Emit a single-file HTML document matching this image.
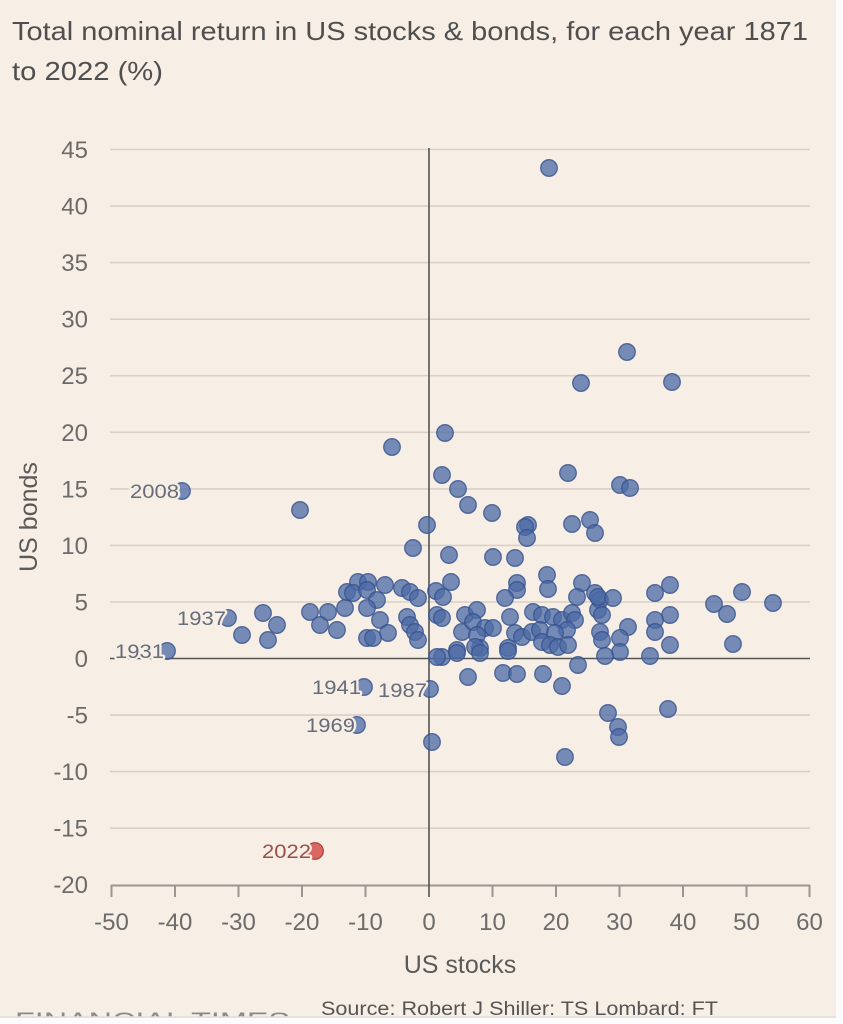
<!DOCTYPE html>
<html>
<head>
<meta charset="utf-8">
<style>
  html,body{margin:0;padding:0;background:#f7efe6;}
  svg{display:block;}
  text{font-family:"Liberation Sans", sans-serif;}
</style>
</head>
<body>
<svg width="843" height="1024" viewBox="0 0 843 1024" xmlns="http://www.w3.org/2000/svg">
  <rect x="0" y="0" width="843" height="1024" fill="#f7efe6"/>

  <text x="12" y="40" font-size="26" fill="#4f4f4f" textLength="796" lengthAdjust="spacingAndGlyphs">Total nominal return in US stocks &amp; bonds, for each year 1871</text>
  <text x="12" y="80" font-size="26" fill="#4f4f4f" textLength="151" lengthAdjust="spacingAndGlyphs">to 2022 (%)</text>

  <g stroke="#d9d1c6" stroke-width="1.6">
    <line x1="110" y1="149.5" x2="810" y2="149.5"/>
    <line x1="110" y1="206.1" x2="810" y2="206.1"/>
    <line x1="110" y1="262.6" x2="810" y2="262.6"/>
    <line x1="110" y1="319.2" x2="810" y2="319.2"/>
    <line x1="110" y1="375.7" x2="810" y2="375.7"/>
    <line x1="110" y1="432.3" x2="810" y2="432.3"/>
    <line x1="110" y1="488.9" x2="810" y2="488.9"/>
    <line x1="110" y1="545.4" x2="810" y2="545.4"/>
    <line x1="110" y1="602.0" x2="810" y2="602.0"/>
    <line x1="110" y1="715.1" x2="810" y2="715.1"/>
    <line x1="110" y1="771.6" x2="810" y2="771.6"/>
    <line x1="110" y1="828.2" x2="810" y2="828.2"/>
  </g>

  <g font-size="24" fill="#6b6b6b" text-anchor="end">
    <text x="88" y="158">45</text>
    <text x="88" y="214.6">40</text>
    <text x="88" y="271.1">35</text>
    <text x="88" y="327.7">30</text>
    <text x="88" y="384.2">25</text>
    <text x="88" y="440.8">20</text>
    <text x="88" y="497.4">15</text>
    <text x="88" y="553.9">10</text>
    <text x="88" y="610.5">5</text>
    <text x="88" y="667">0</text>
    <text x="88" y="723.6">-5</text>
    <text x="88" y="780.1">-10</text>
    <text x="88" y="836.7">-15</text>
    <text x="88" y="893.2">-20</text>
  </g>

  <text x="0" y="0" font-size="25" fill="#5a5a5a" text-anchor="middle" transform="translate(37,517) rotate(-90)">US bonds</text>

  <g stroke="#9a9690" stroke-width="2">
    <line x1="111" y1="885.5" x2="810" y2="885.5"/>
    <line x1="111.5" y1="885" x2="111.5" y2="897"/>
    <line x1="175" y1="885" x2="175" y2="897"/>
    <line x1="238.5" y1="885" x2="238.5" y2="897"/>
    <line x1="302" y1="885" x2="302" y2="897"/>
    <line x1="365.5" y1="885" x2="365.5" y2="897"/>
    <line x1="492.5" y1="885" x2="492.5" y2="897"/>
    <line x1="556" y1="885" x2="556" y2="897"/>
    <line x1="619.5" y1="885" x2="619.5" y2="897"/>
    <line x1="683" y1="885" x2="683" y2="897"/>
    <line x1="746.5" y1="885" x2="746.5" y2="897"/>
    <line x1="809.5" y1="885" x2="809.5" y2="897"/>
  </g>

  <g stroke="#545454" stroke-width="1.6">
    <line x1="110" y1="658.5" x2="810" y2="658.5"/>
    <line x1="429" y1="148" x2="429" y2="897"/>
  </g>

  <g font-size="24" fill="#6b6b6b" text-anchor="middle">
    <text x="111.5" y="930">-50</text>
    <text x="175" y="930">-40</text>
    <text x="238.5" y="930">-30</text>
    <text x="302" y="930">-20</text>
    <text x="365.5" y="930">-10</text>
    <text x="429" y="930">0</text>
    <text x="492.5" y="930">10</text>
    <text x="556" y="930">20</text>
    <text x="619.5" y="930">30</text>
    <text x="683" y="930">40</text>
    <text x="746.5" y="930">50</text>
    <text x="809.5" y="930">60</text>
  </g>

  <text x="460" y="973" font-size="25" fill="#5a5a5a" text-anchor="middle">US stocks</text>

  <g fill="#4c6aa6" fill-opacity="0.76" stroke="#34508c" stroke-opacity="0.8" stroke-width="1.3">
    <circle cx="549" cy="168" r="8.3"/>
    <circle cx="627" cy="352" r="8.3"/>
    <circle cx="581" cy="383" r="8.3"/>
    <circle cx="672" cy="382" r="8.3"/>
    <circle cx="445" cy="433" r="8.3"/>
    <circle cx="392" cy="447" r="8.3"/>
    <circle cx="568" cy="473" r="8.3"/>
    <circle cx="442" cy="475" r="8.3"/>
    <circle cx="458" cy="489" r="8.3"/>
    <circle cx="620" cy="485" r="8.3"/>
    <circle cx="630" cy="488" r="8.3"/>
    <circle cx="182" cy="491" r="8.3"/>
    <circle cx="468" cy="505" r="8.3"/>
    <circle cx="300" cy="510" r="8.3"/>
    <circle cx="492" cy="513" r="8.3"/>
    <circle cx="427" cy="525" r="8.3"/>
    <circle cx="528" cy="525" r="8.3"/>
    <circle cx="525" cy="527" r="8.3"/>
    <circle cx="572" cy="524" r="8.3"/>
    <circle cx="590" cy="520" r="8.3"/>
    <circle cx="595" cy="533" r="8.3"/>
    <circle cx="527" cy="538" r="8.3"/>
    <circle cx="413" cy="548" r="8.3"/>
    <circle cx="449" cy="555" r="8.3"/>
    <circle cx="493" cy="557" r="8.3"/>
    <circle cx="515" cy="558" r="8.3"/>
    <circle cx="228" cy="618" r="8.3"/>
    <circle cx="167" cy="651" r="8.3"/>
    <circle cx="263" cy="613" r="8.3"/>
    <circle cx="242" cy="635" r="8.3"/>
    <circle cx="277" cy="625" r="8.3"/>
    <circle cx="268" cy="640" r="8.3"/>
    <circle cx="310" cy="612" r="8.3"/>
    <circle cx="328" cy="612" r="8.3"/>
    <circle cx="320" cy="625" r="8.3"/>
    <circle cx="337" cy="630" r="8.3"/>
    <circle cx="345" cy="608" r="8.3"/>
    <circle cx="347" cy="592" r="8.3"/>
    <circle cx="358" cy="582" r="8.3"/>
    <circle cx="368" cy="582" r="8.3"/>
    <circle cx="353" cy="593" r="8.3"/>
    <circle cx="367" cy="590" r="8.3"/>
    <circle cx="385" cy="585" r="8.3"/>
    <circle cx="377" cy="600" r="8.3"/>
    <circle cx="367" cy="608" r="8.3"/>
    <circle cx="380" cy="620" r="8.3"/>
    <circle cx="388" cy="633" r="8.3"/>
    <circle cx="367" cy="638" r="8.3"/>
    <circle cx="373" cy="638" r="8.3"/>
    <circle cx="402" cy="588" r="8.3"/>
    <circle cx="410" cy="592" r="8.3"/>
    <circle cx="418" cy="598" r="8.3"/>
    <circle cx="407" cy="617" r="8.3"/>
    <circle cx="410" cy="625" r="8.3"/>
    <circle cx="415" cy="632" r="8.3"/>
    <circle cx="418" cy="640" r="8.3"/>
    <circle cx="364" cy="687" r="8.3"/>
    <circle cx="430" cy="689" r="8.3"/>
    <circle cx="357" cy="725" r="8.3"/>
    <circle cx="432" cy="742" r="8.3"/>
    <circle cx="436" cy="591" r="8.3"/>
    <circle cx="443" cy="597" r="8.3"/>
    <circle cx="451" cy="582" r="8.3"/>
    <circle cx="547" cy="575" r="8.3"/>
    <circle cx="548" cy="589" r="8.3"/>
    <circle cx="517" cy="583" r="8.3"/>
    <circle cx="517" cy="590" r="8.3"/>
    <circle cx="505" cy="598" r="8.3"/>
    <circle cx="582" cy="583" r="8.3"/>
    <circle cx="577" cy="597" r="8.3"/>
    <circle cx="595" cy="593" r="8.3"/>
    <circle cx="600" cy="600" r="8.3"/>
    <circle cx="437" cy="615" r="8.3"/>
    <circle cx="442" cy="618" r="8.3"/>
    <circle cx="465" cy="615" r="8.3"/>
    <circle cx="477" cy="610" r="8.3"/>
    <circle cx="462" cy="632" r="8.3"/>
    <circle cx="473" cy="622" r="8.3"/>
    <circle cx="485" cy="628" r="8.3"/>
    <circle cx="493" cy="628" r="8.3"/>
    <circle cx="477" cy="635" r="8.3"/>
    <circle cx="480" cy="648" r="8.3"/>
    <circle cx="475" cy="647" r="8.3"/>
    <circle cx="457" cy="650" r="8.3"/>
    <circle cx="442" cy="657" r="8.3"/>
    <circle cx="510" cy="617" r="8.3"/>
    <circle cx="515" cy="633" r="8.3"/>
    <circle cx="508" cy="648" r="8.3"/>
    <circle cx="522" cy="637" r="8.3"/>
    <circle cx="533" cy="612" r="8.3"/>
    <circle cx="542" cy="615" r="8.3"/>
    <circle cx="532" cy="632" r="8.3"/>
    <circle cx="540" cy="630" r="8.3"/>
    <circle cx="542" cy="642" r="8.3"/>
    <circle cx="553" cy="617" r="8.3"/>
    <circle cx="562" cy="620" r="8.3"/>
    <circle cx="572" cy="613" r="8.3"/>
    <circle cx="575" cy="620" r="8.3"/>
    <circle cx="567" cy="630" r="8.3"/>
    <circle cx="555" cy="633" r="8.3"/>
    <circle cx="550" cy="645" r="8.3"/>
    <circle cx="558" cy="647" r="8.3"/>
    <circle cx="568" cy="645" r="8.3"/>
    <circle cx="598" cy="610" r="8.3"/>
    <circle cx="600" cy="632" r="8.3"/>
    <circle cx="602" cy="640" r="8.3"/>
    <circle cx="437" cy="657" r="8.3"/>
    <circle cx="457" cy="653" r="8.3"/>
    <circle cx="480" cy="653" r="8.3"/>
    <circle cx="508" cy="651" r="8.3"/>
    <circle cx="468" cy="677" r="8.3"/>
    <circle cx="503" cy="673" r="8.3"/>
    <circle cx="517" cy="674" r="8.3"/>
    <circle cx="543" cy="674" r="8.3"/>
    <circle cx="562" cy="686" r="8.3"/>
    <circle cx="578" cy="665" r="8.3"/>
    <circle cx="565" cy="757" r="8.3"/>
    <circle cx="598" cy="597" r="8.3"/>
    <circle cx="613" cy="598" r="8.3"/>
    <circle cx="602" cy="615" r="8.3"/>
    <circle cx="655" cy="593" r="8.3"/>
    <circle cx="670" cy="585" r="8.3"/>
    <circle cx="742" cy="592" r="8.3"/>
    <circle cx="773" cy="603" r="8.3"/>
    <circle cx="714" cy="604" r="8.3"/>
    <circle cx="727" cy="614" r="8.3"/>
    <circle cx="670" cy="615" r="8.3"/>
    <circle cx="655" cy="620" r="8.3"/>
    <circle cx="655" cy="632" r="8.3"/>
    <circle cx="628" cy="627" r="8.3"/>
    <circle cx="620" cy="638" r="8.3"/>
    <circle cx="620" cy="652" r="8.3"/>
    <circle cx="605" cy="656" r="8.3"/>
    <circle cx="650" cy="656" r="8.3"/>
    <circle cx="670" cy="645" r="8.3"/>
    <circle cx="733" cy="644" r="8.3"/>
    <circle cx="608" cy="713" r="8.3"/>
    <circle cx="618" cy="727" r="8.3"/>
    <circle cx="619" cy="737" r="8.3"/>
    <circle cx="668" cy="709" r="8.3"/>
  </g>

  <circle cx="315" cy="851" r="8.3" fill="#d4504a" fill-opacity="0.85" stroke="#b03a36" stroke-width="1.2"/>

  <g font-size="19" fill="#666c7a" stroke="#f7efe6" stroke-width="4" paint-order="stroke" stroke-linejoin="round">
    <text x="130" y="498" textLength="49" lengthAdjust="spacingAndGlyphs">2008</text>
    <text x="177" y="625" textLength="49" lengthAdjust="spacingAndGlyphs">1937</text>
    <text x="115" y="658" textLength="49" lengthAdjust="spacingAndGlyphs">1931</text>
    <text x="312" y="694" textLength="49" lengthAdjust="spacingAndGlyphs">1941</text>
    <text x="378" y="697" textLength="49" lengthAdjust="spacingAndGlyphs">1987</text>
    <text x="306" y="732" textLength="49" lengthAdjust="spacingAndGlyphs">1969</text>
    <text x="262" y="858" textLength="49" lengthAdjust="spacingAndGlyphs" fill="#9a4f47">2022</text>
  </g>

  <text x="321" y="1015" font-size="19" fill="#555" textLength="397" lengthAdjust="spacingAndGlyphs">Source: Robert J Shiller: TS Lombard: FT</text>

  <text x="15" y="1028" font-family="Liberation Serif, serif" font-size="22" fill="#8a8a8a" textLength="275" lengthAdjust="spacingAndGlyphs">FINANCIAL TIMES</text>

  <rect x="0" y="1017" width="843" height="7" fill="#fcfcfc"/>
  <line x1="0" y1="1017" x2="836" y2="1017" stroke="#e0dcd6" stroke-width="1.5"/>
  <rect x="836" y="0" width="7" height="1024" fill="#fcfcfc"/>
</svg>
</body>
</html>
